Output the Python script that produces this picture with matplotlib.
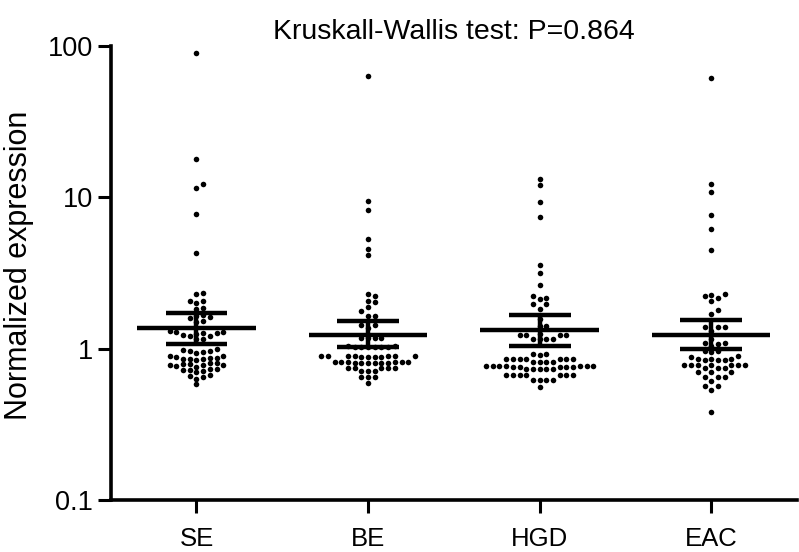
import numpy as np
import matplotlib
matplotlib.use('Agg')
import matplotlib.pyplot as plt

plt.rcParams['font.family'] = ['Liberation Sans', 'DejaVu Sans']

groups = ['SE', 'BE', 'HGD', 'EAC']

se_vals = [90, 17.9, 12.2, 11.6, 7.8, 4.26,
           2.34, 2.30, 2.08, 2.05, 2.0, 1.86, 1.84, 1.66, 1.64, 1.62, 1.60,
           1.52, 1.50, 1.30, 1.29, 1.28, 1.27, 1.26, 1.25, 1.24, 1.22, 1.21,
           1.16, 1.15,
           0.99, 0.98, 0.97, 0.96, 0.95, 0.94, 0.90, 0.89, 0.88, 0.87, 0.87,
           0.86, 0.86, 0.85, 0.84, 0.80, 0.80, 0.79, 0.79, 0.78, 0.78, 0.78,
           0.77, 0.76, 0.73, 0.73, 0.72, 0.72, 0.71, 0.70, 0.67, 0.66, 0.65,
           0.63, 0.58]
be_vals = [63, 9.45, 8.2, 5.27, 4.53, 4.13,
           2.28, 2.22, 2.06, 2.02, 1.88, 1.77, 1.65, 1.64, 1.44, 1.43, 1.36,
           1.18, 1.18, 1.17, 1.17,
           1.04, 1.04, 1.03, 1.03, 1.03, 1.03, 1.02, 1.02,
           0.90, 0.90, 0.89, 0.89, 0.89, 0.89, 0.89, 0.88, 0.88, 0.88, 0.88,
           0.82, 0.82, 0.82, 0.82, 0.82, 0.82, 0.81, 0.81, 0.81, 0.81, 0.81,
           0.81, 0.75, 0.75, 0.74, 0.74, 0.74, 0.71, 0.71, 0.71,
           0.65, 0.65, 0.65, 0.59]
hgd_vals = [13.2, 12.0, 9.3, 7.4, 3.55, 3.17, 2.63,
            2.22, 2.15, 2.13, 1.98, 1.96, 1.83, 1.57, 1.42, 1.41,
            1.25, 1.24, 1.24, 1.23, 1.23, 1.16, 1.16, 1.15, 1.15,
            0.92, 0.92, 0.91, 0.86, 0.86, 0.86, 0.86, 0.85, 0.85, 0.85,
            0.82, 0.82, 0.82, 0.82,
            0.77, 0.77, 0.77, 0.77, 0.77, 0.77, 0.77, 0.76, 0.76, 0.76, 0.76,
            0.76, 0.73, 0.73, 0.73, 0.73, 0.73,
            0.67, 0.67, 0.67, 0.67, 0.67, 0.67, 0.67,
            0.62, 0.62, 0.62, 0.62, 0.56]
eac_vals = [61.4, 12.2, 10.8, 7.7, 6.2, 4.5,
            2.30, 2.25, 2.22, 2.17, 2.06, 1.81, 1.70,
            1.39, 1.39, 1.38, 1.30, 1.16, 1.09, 1.09, 1.08, 1.035,
            0.96, 0.96, 0.95, 0.90, 0.88,
            0.85, 0.85, 0.85, 0.84, 0.84, 0.84,
            0.78, 0.78, 0.78, 0.78, 0.78, 0.78, 0.78,
            0.75, 0.74, 0.74, 0.70, 0.70, 0.70, 0.65, 0.65, 0.65,
            0.61, 0.57, 0.57, 0.53, 0.38]
all_vals = [se_vals, be_vals, hgd_vals, eac_vals]

# centre line and whiskers
centre = [1.36, 1.24, 1.32, 1.24]
lower = [1.08, 1.03, 1.035, 0.995]
upper = [1.71, 1.52, 1.66, 1.54]

title = 'Kruskall-Wallis test: P=0.864'
ylabel = 'Normalized expression'


def swarm_offsets(ypix, step, mindist):
    """Place points side by side so they don't overlap (pixel units)"""
    order = np.argsort(ypix)
    offs = np.zeros(len(ypix))
    placed = []
    for i in order:
        y = ypix[i]
        for k in range(40):
            c = (k + 1) // 2 * (1 if k % 2 else -1)
            x = c * step
            if all((x - px) ** 2 + (y - py) ** 2 >= mindist ** 2
                   for px, py in placed):
                break
        offs[i] = x
        placed.append((x, y))
    return offs


fig = plt.figure(figsize=(7.99, 5.52), dpi=100)
ax = fig.add_axes([0.1385, 0.0942, 0.859, 0.8225])
ax.set_yscale('log')
ax.set_ylim(0.1, 100)
ax.set_xlim(-0.5, 3.5)

# pixel -> data conversion for x
px_per_unit = ax.transData.transform((1, 1))[0] - ax.transData.transform((0, 1))[0]

for i, vals in enumerate(all_vals):
    vals = np.array(vals)
    ypix = ax.transData.transform(np.column_stack([np.full(len(vals), i), vals]))[:, 1]
    offs = swarm_offsets(ypix, 6.7, 5.4) / px_per_unit
    ax.plot(i + offs, vals, 'o', color='black', markersize=4.0,
            markeredgewidth=0, zorder=2)

xs = np.arange(len(groups))
ax.hlines(centre, xs - 0.345, xs + 0.345, color='black', linewidth=3.2, zorder=3)
ax.hlines(lower, xs - 0.18, xs + 0.18, color='black', linewidth=3.2, zorder=3)
ax.hlines(upper, xs - 0.18, xs + 0.18, color='black', linewidth=3.2, zorder=3)
ax.vlines(xs, lower, upper, color='black', linewidth=3.2, zorder=3)

ax.set_yticks([0.1, 1, 10, 100])
ax.set_yticklabels(['0.1', '1', '10', '100'])
ax.minorticks_off()
ax.set_xticks(xs)
ax.set_xticklabels(groups)

for side in ['top', 'right']:
    ax.spines[side].set_visible(False)
for side in ['left', 'bottom']:
    ax.spines[side].set_linewidth(2.6)
ax.tick_params(axis='both', width=2.2, length=9.5, colors='black')
ax.tick_params(axis='x', pad=10, labelsize=18.5)
ax.tick_params(axis='y', pad=3, labelsize=19.5)

ax.set_title(title, fontsize=20.5, pad=5)
ax.set_ylabel(ylabel, fontsize=22)
ax.yaxis.set_label_coords(-0.112, 0.518)

fig.savefig('out.png', dpi=100)
